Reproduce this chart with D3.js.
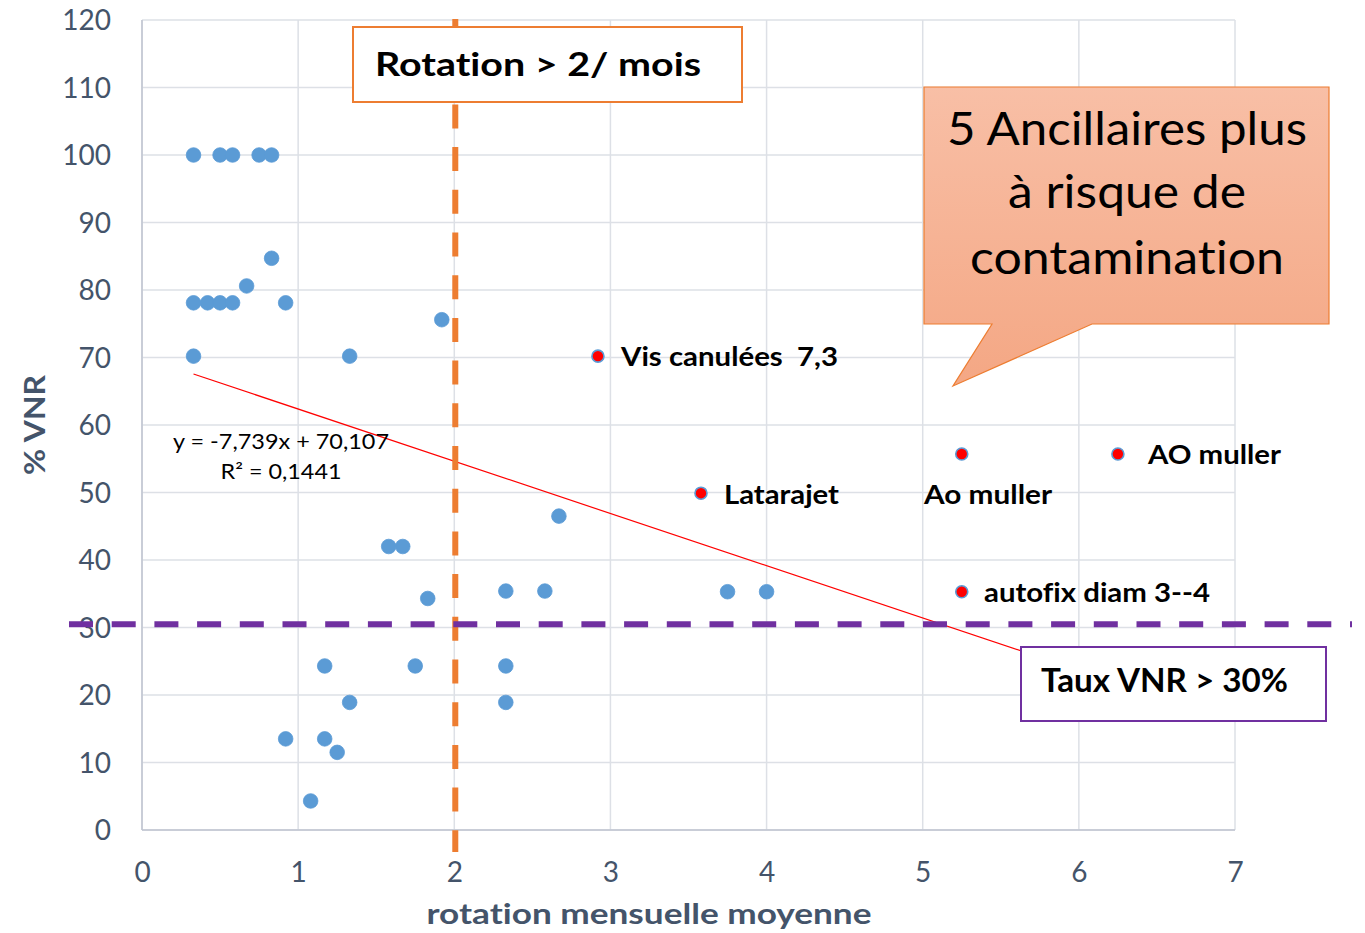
<!DOCTYPE html>
<html><head><meta charset="utf-8">
<script src="https://cdn.jsdelivr.net/npm/d3@7"></script>
<style>
html,body{margin:0;padding:0;background:#fff;}
svg{display:block;font-family:Lato,"Open Sans",sans-serif;font-variant-ligatures:none;font-feature-settings:"liga" 0,"clig" 0;}
</style></head>
<body>
<svg id="chart" width="1365" height="933"></svg>
<script>
// ---- data ----
const blueX = [0.33,0.5,0.58,0.75,0.83, 0.83,0.67,0.33,0.42,0.5,0.58,0.92,0.33,1.33,1.92, 2.67,1.58,1.67,2.33,2.58,1.83,1.17,1.75,2.33,1.33,2.33,0.92,1.17,1.25,1.08,3.75,4.0];
const blueY = [100,100,100,100,100, 84.7,80.6,78.1,78.1,78.1,78.1,78.1,70.2,70.2,75.6, 46.5,42,42,35.4,35.4,34.3,24.3,24.3,24.3,18.9,18.9,13.5,13.5,11.5,4.3,35.3,35.3];
const redX = [2.92,3.58,5.25,6.25,5.25];
const redY = [70.2,49.9,55.7,55.7,35.3];
const redLabels = ["Vis canulées  7,3","Latarajet","Ao muller","AO muller","autofix diam 3--4"];
const xTicks = [0,1,2,3,4,5,6,7];
const yTicks = [0,10,20,30,40,50,60,70,80,90,100,110,120];
const trendSlope = -7.739, trendIntercept = 70.107;
const trendText = ["y = -7,739x + 70,107","R² = 0,1441"];
const rotationThreshold = 2;
const vnrThreshold = 30.5;
const xTitle = "rotation mensuelle moyenne";
const yTitle = "% VNR";
const boxRotation = "Rotation > 2/ mois";
const boxVnr = "Taux VNR > 30%";
const calloutLines = ["5 Ancillaires plus","à risque de","contamination"];

// ---- layout ----
const svg = d3.select("#chart");
const L = 142, R = 1235, T = 20, B = 830;
const x = d3.scaleLinear().domain([0,7]).range([L,R]);
const y = d3.scaleLinear().domain([0,120]).range([B,T]);
const axisColor = "#44546A";

const defs = svg.append("defs");
const grad = defs.append("linearGradient").attr("id","cg").attr("x1",0).attr("x2",0).attr("y1",0).attr("y2",1);
grad.append("stop").attr("offset","0%").attr("stop-color","#F8BFA6");
grad.append("stop").attr("offset","100%").attr("stop-color","#F4A784");

// grid
svg.append("g").selectAll("line").data(yTicks).join("line")
  .attr("x1",L).attr("x2",R).attr("y1",d=>y(d)).attr("y2",d=>y(d))
  .attr("stroke","#DDE0E6").attr("stroke-width",1.5);
svg.append("g").selectAll("line").data(xTicks).join("line")
  .attr("x1",d=>x(d)).attr("x2",d=>x(d)).attr("y1",T).attr("y2",B)
  .attr("stroke","#DDE0E6").attr("stroke-width",1.5);
// axis lines
svg.append("line").attr("x1",L).attr("x2",L).attr("y1",T).attr("y2",B).attr("stroke","#BFC5D0").attr("stroke-width",1.5);
svg.append("line").attr("x1",L).attr("x2",R).attr("y1",B).attr("y2",B).attr("stroke","#BFC5D0").attr("stroke-width",1.5);

// axes via d3
const yAxis = d3.axisLeft(y).tickValues(yTicks).tickFormat(d3.format("d")).tickSize(0).tickPadding(31);
const gy = svg.append("g").attr("transform",`translate(${L},0)`).call(yAxis);
gy.select(".domain").remove();
gy.selectAll("text").attr("fill",axisColor).style("font-size","28px").style("font-family","Lato").attr("dy","0.35em");
const xAxis = d3.axisBottom(x).tickValues(xTicks).tickFormat(d3.format("d")).tickSize(0).tickPadding(32);
const gx = svg.append("g").attr("transform",`translate(0,${B})`).call(xAxis);
gx.select(".domain").remove();
gx.selectAll("text").attr("fill",axisColor).style("font-size","28px").style("font-family","Lato").attr("dy","0.71em");

// titles
svg.append("text").attr("x",649).attr("y",924).attr("text-anchor","middle")
  .attr("fill",axisColor).style("font-size","29px").style("font-weight","bold")
  .attr("textLength",445).attr("lengthAdjust","spacingAndGlyphs").text(xTitle);
svg.append("text").attr("transform","translate(45,425) rotate(-90)").attr("text-anchor","middle")
  .attr("fill",axisColor).style("font-size","29px").style("font-weight","bold")
  .attr("textLength",100).attr("lengthAdjust","spacingAndGlyphs").text(yTitle);

// trend line
const xmin = d3.min(blueX.concat(redX)), xmax = d3.max(blueX.concat(redX));
svg.append("line").attr("x1",x(xmin)).attr("y1",y(trendSlope*xmin+trendIntercept))
  .attr("x2",x(xmax)).attr("y2",y(trendSlope*xmax+trendIntercept))
  .attr("stroke","#FF0000").attr("stroke-width",1.2);
svg.append("text").attr("x",281).attr("y",449).attr("text-anchor","middle").style("font-size","21px").attr("fill","#000")
  .attr("textLength",216).attr("lengthAdjust","spacingAndGlyphs").text(trendText[0]);
svg.append("text").attr("x",281).attr("y",479).attr("text-anchor","middle").style("font-size","21px").attr("fill","#000")
  .attr("textLength",121).attr("lengthAdjust","spacingAndGlyphs").text(trendText[1]);

// threshold lines
svg.append("line").attr("x1",x(rotationThreshold)+1).attr("x2",x(rotationThreshold)+1).attr("y1",T-1).attr("y2",852)
  .attr("stroke","#ED7D31").attr("stroke-width",6).attr("stroke-dasharray","24,18.7");
svg.append("line").attr("x1",69).attr("x2",1352).attr("y1",y(vnrThreshold)).attr("y2",y(vnrThreshold))
  .attr("stroke","#7030A0").attr("stroke-width",6).attr("stroke-dasharray","24,18.7");

// points
svg.append("g").selectAll("circle").data(blueX.map((v,i)=>[v,blueY[i]])).join("circle")
  .attr("cx",d=>x(d[0])).attr("cy",d=>y(d[1])).attr("r",7.3)
  .attr("fill","#5B9BD5").attr("stroke","#5B9BD5").attr("stroke-width",0.8);
svg.append("g").selectAll("circle").data(redX.map((v,i)=>[v,redY[i]])).join("circle")
  .attr("cx",d=>x(d[0])).attr("cy",d=>y(d[1])).attr("r",6)
  .attr("fill","#FF0000").attr("stroke","#5B9BD5").attr("stroke-width",1.6);

// red point labels
const labPos = [[621,366,217],[724,504,115],[924,504,128],[1148,464,133],[984,602,226]];
redLabels.forEach((t,i)=>{
  svg.append("text").attr("x",labPos[i][0]).attr("y",labPos[i][1]).style("font-size","27px").style("font-weight","bold")
    .attr("fill","#000").style("white-space","pre").attr("xml:space","preserve")
    .attr("textLength",labPos[i][2]).attr("lengthAdjust","spacingAndGlyphs").text(t);
});

// boxes
svg.append("rect").attr("x",353).attr("y",27).attr("width",389).attr("height",75).attr("fill","#fff").attr("stroke","#ED7D31").attr("stroke-width",2);
svg.append("text").attr("x",375).attr("y",76).style("font-size","33px").style("font-weight","bold").attr("fill","#000")
  .attr("textLength",326).attr("lengthAdjust","spacingAndGlyphs").text(boxRotation);
svg.append("rect").attr("x",1021).attr("y",647).attr("width",305).attr("height",74).attr("fill","#fff").attr("stroke","#7030A0").attr("stroke-width",2);
svg.append("text").attr("x",1041).attr("y",692).style("font-size","33px").style("font-weight","bold").attr("fill","#000")
  .attr("textLength",247).attr("lengthAdjust","spacingAndGlyphs").text(boxVnr);

// callout
svg.append("path").attr("d","M924,87 L1329,87 L1329,324 L1092,324 L953,386 L992,324 L924,324 Z")
  .attr("fill","url(#cg)").attr("stroke","#ED7D31").attr("stroke-width",1.2);
const cl = [[145,360],[208,238],[274,314]];
calloutLines.forEach((t,i)=>{
  svg.append("text").attr("x",1127).attr("y",cl[i][0]).attr("text-anchor","middle").style("font-size","46px").attr("fill","#000")
    .attr("textLength",cl[i][1]).attr("lengthAdjust","spacingAndGlyphs").text(t);
});
</script>
</body></html>
